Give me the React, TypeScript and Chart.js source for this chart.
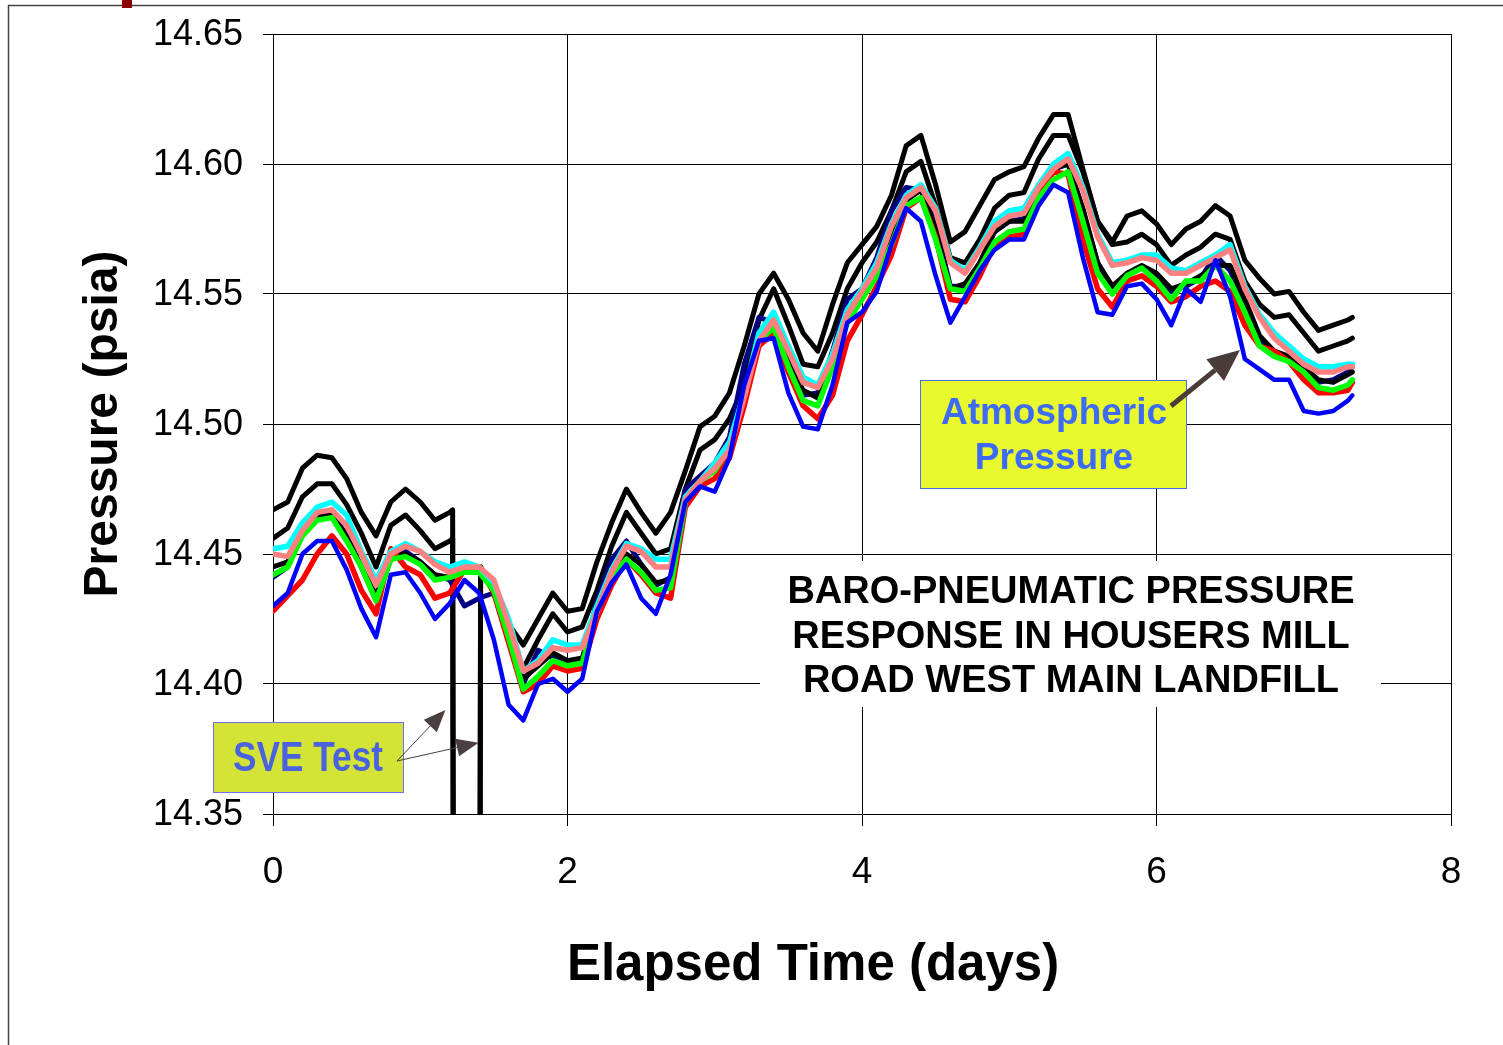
import React, { useEffect, useRef } from "react";
import { Chart, registerables } from "chart.js";

Chart.register(...registerables);

// Elapsed time (days)
const X: number[] = [
  0, 0.1, 0.2, 0.3, 0.4, 0.5, 0.6, 0.7, 0.8, 0.9,
  1.0, 1.1, 1.2, 1.3, 1.4, 1.5, 1.6, 1.7, 1.8, 1.9,
  2.0, 2.1, 2.2, 2.3, 2.4, 2.5, 2.6, 2.7, 2.8, 2.9,
  3.0, 3.1, 3.2, 3.3, 3.4, 3.5, 3.6, 3.7, 3.8, 3.9,
  4.0, 4.1, 4.2, 4.3, 4.4, 4.5, 4.6, 4.7, 4.8, 4.9,
  5.0, 5.1, 5.2, 5.3, 5.4, 5.5, 5.6, 5.7, 5.8, 5.9,
  6.0, 6.1, 6.2, 6.3, 6.4, 6.5, 6.6, 6.7, 6.8, 6.9,
  7.0, 7.1, 7.2, 7.3, 7.33,
];

// Pressure (psia) per series
const BLACK_1: (number | null)[] = [
  14.467, 14.470, 14.483, 14.488, 14.487, 14.479, 14.466, 14.457, 14.470, 14.475,
  14.470, 14.463, 14.466, null, null, 14.437, 14.423, 14.415, 14.425, 14.435,
  14.428, 14.429, 14.447, 14.462, 14.475, 14.466, 14.458, 14.466, 14.482, 14.499,
  14.503, 14.512, 14.530, 14.550, 14.558, 14.548, 14.535, 14.528, 14.546, 14.562,
  14.569, 14.576, 14.588, 14.607, 14.611, 14.592, 14.570, 14.574, 14.584, 14.594,
  14.597, 14.599, 14.610, 14.619, 14.619, 14.598, 14.578, 14.570, 14.580, 14.582,
  14.577, 14.569, 14.575, 14.578, 14.584, 14.580, 14.563, 14.556, 14.550, 14.551,
  14.543, 14.536, 14.538, 14.540, 14.541,
];
const BLACK_2: (number | null)[] = [
  14.456, 14.460, 14.472, 14.477, 14.477, 14.469, 14.458, 14.445, 14.461, 14.465,
  14.459, 14.452, 14.455, null, null, 14.435, 14.419, 14.406, 14.417, 14.427,
  14.420, 14.422, 14.436, 14.453, 14.466, 14.458, 14.450, 14.452, 14.475, 14.490,
  14.494, 14.502, 14.515, 14.540, 14.552, 14.538, 14.523, 14.522, 14.535, 14.552,
  14.562, 14.570, 14.582, 14.597, 14.601, 14.584, 14.564, 14.562, 14.571, 14.583,
  14.588, 14.589, 14.602, 14.611, 14.611, 14.597, 14.578, 14.569, 14.570, 14.573,
  14.569, 14.561, 14.565, 14.568, 14.573, 14.571, 14.555, 14.546, 14.541, 14.542,
  14.535, 14.528, 14.530, 14.532, 14.533,
];
const CYAN: number[] = [
  14.452, 14.453, 14.462, 14.468, 14.470, 14.465, 14.451, 14.440, 14.451, 14.454,
  14.451, 14.447, 14.445, 14.447, 14.445, 14.439, 14.425, 14.405, 14.409, 14.417,
  14.415, 14.415, 14.430, 14.444, 14.454, 14.452, 14.448, 14.448, 14.472, 14.478,
  14.485, 14.493, 14.512, 14.535, 14.543, 14.530, 14.518, 14.515, 14.527, 14.544,
  14.552, 14.562, 14.577, 14.588, 14.592, 14.583, 14.563, 14.559, 14.568, 14.578,
  14.582, 14.583, 14.592, 14.600, 14.604, 14.591, 14.573, 14.562, 14.563, 14.565,
  14.565, 14.560, 14.559, 14.562, 14.565, 14.569, 14.553, 14.542, 14.535, 14.530,
  14.525, 14.522, 14.522, 14.523, 14.523,
];
const SALMON: number[] = [
  14.450, 14.449, 14.459, 14.466, 14.467, 14.461, 14.450, 14.438, 14.450, 14.453,
  14.451, 14.446, 14.443, 14.445, 14.445, 14.440, 14.423, 14.405, 14.408, 14.414,
  14.413, 14.414, 14.428, 14.443, 14.453, 14.451, 14.445, 14.445, 14.471, 14.478,
  14.483, 14.490, 14.510, 14.532, 14.540, 14.528, 14.516, 14.514, 14.525, 14.542,
  14.551, 14.560, 14.576, 14.587, 14.591, 14.582, 14.562, 14.558, 14.567, 14.576,
  14.580, 14.581, 14.591, 14.598, 14.602, 14.590, 14.572, 14.561, 14.562, 14.564,
  14.563, 14.558, 14.558, 14.561, 14.564, 14.567, 14.552, 14.541, 14.533, 14.528,
  14.523, 14.520, 14.520, 14.522, 14.522,
];
const BLACK_3: number[] = [
  14.445, 14.447, 14.459, 14.465, 14.465, 14.457, 14.445, 14.434, 14.450, 14.450,
  14.447, 14.442, 14.441, 14.445, 14.444, 14.437, 14.420, 14.402, 14.407, 14.412,
  14.409, 14.410, 14.428, 14.442, 14.450, 14.446, 14.439, 14.440, 14.471, 14.478,
  14.483, 14.492, 14.512, 14.533, 14.537, 14.525, 14.513, 14.510, 14.524, 14.541,
  14.550, 14.558, 14.573, 14.586, 14.590, 14.575, 14.552, 14.554, 14.562, 14.574,
  14.578, 14.578, 14.590, 14.598, 14.600, 14.583, 14.562, 14.553, 14.558, 14.561,
  14.558, 14.552, 14.554, 14.557, 14.561, 14.561, 14.548, 14.534, 14.528, 14.526,
  14.522, 14.517, 14.516, 14.519, 14.520,
];
const GREEN: number[] = [
  14.442, 14.445, 14.457, 14.463, 14.464, 14.455, 14.445, 14.432, 14.448, 14.449,
  14.446, 14.440, 14.441, 14.443, 14.443, 14.436, 14.418, 14.398, 14.403, 14.409,
  14.407, 14.408, 14.428, 14.441, 14.448, 14.443, 14.436, 14.437, 14.470, 14.478,
  14.482, 14.491, 14.512, 14.532, 14.537, 14.522, 14.509, 14.507, 14.522, 14.539,
  14.548, 14.557, 14.569, 14.584, 14.587, 14.571, 14.552, 14.551, 14.560, 14.570,
  14.574, 14.575, 14.587, 14.594, 14.597, 14.578, 14.558, 14.550, 14.557, 14.560,
  14.555, 14.548, 14.555, 14.555, 14.561, 14.555, 14.543, 14.530, 14.526, 14.524,
  14.520, 14.514, 14.513, 14.515, 14.517,
];
const NAVY: number[] = [
  14.441, 14.445, 14.458, 14.465, 14.466, 14.457, 14.445, 14.432, 14.448, 14.451,
  14.447, 14.442, 14.440, 14.430, 14.433, 14.435, 14.417, 14.400, 14.413, 14.410,
  14.408, 14.409, 14.432, 14.448, 14.455, 14.446, 14.438, 14.441, 14.475, 14.480,
  14.485, 14.495, 14.523, 14.541, 14.539, 14.523, 14.511, 14.512, 14.528, 14.548,
  14.552, 14.564, 14.582, 14.591, 14.590, 14.577, 14.553, 14.553, 14.562, 14.574,
  14.578, 14.579, 14.590, 14.598, 14.600, 14.582, 14.562, 14.552, 14.557, 14.560,
  14.557, 14.551, 14.553, 14.556, 14.565, 14.559, 14.546, 14.532, 14.528, 14.525,
  14.521, 14.516, 14.517, 14.520, 14.522,
];
const RED: number[] = [
  14.428, 14.434, 14.440, 14.450, 14.457, 14.450, 14.436, 14.427, 14.452, 14.445,
  14.442, 14.433, 14.435, 14.444, 14.445, 14.435, 14.416, 14.397, 14.400, 14.407,
  14.405, 14.406, 14.425, 14.438, 14.448, 14.442, 14.435, 14.433, 14.468, 14.476,
  14.479, 14.487, 14.507, 14.530, 14.535, 14.520, 14.507, 14.502, 14.511, 14.532,
  14.542, 14.553, 14.565, 14.583, 14.587, 14.572, 14.548, 14.547, 14.557, 14.569,
  14.572, 14.573, 14.587, 14.597, 14.596, 14.571, 14.552, 14.545, 14.555, 14.557,
  14.553, 14.547, 14.549, 14.553, 14.555, 14.551, 14.538, 14.530, 14.528, 14.524,
  14.517, 14.512, 14.512, 14.513, 14.516,
];
const ATMOSPHERIC: number[] = [
  14.430, 14.435, 14.450, 14.455, 14.455, 14.444, 14.429, 14.418, 14.442, 14.443,
  14.435, 14.425, 14.431, 14.440, 14.435, 14.417, 14.392, 14.386, 14.400, 14.402,
  14.397, 14.402, 14.428, 14.439, 14.446, 14.433, 14.427, 14.442, 14.470, 14.476,
  14.474, 14.487, 14.515, 14.532, 14.533, 14.512, 14.499, 14.498, 14.515, 14.539,
  14.543, 14.551, 14.569, 14.583, 14.578, 14.557, 14.539, 14.549, 14.559, 14.567,
  14.571, 14.571, 14.584, 14.592, 14.589, 14.564, 14.543, 14.542, 14.553, 14.554,
  14.548, 14.538, 14.552, 14.547, 14.563, 14.549, 14.525, 14.521, 14.517, 14.517,
  14.505, 14.504, 14.505, 14.509, 14.511,
];

// SVE test interruptions of the two upper black records
const SVE_X: number[] = [1.22, 1.225, 1.405, 1.41];
const BLACK_1_SVE: number[] = [14.467, 14.3, 14.3, 14.445];
const BLACK_2_SVE: number[] = [14.456, 14.3, 14.3, 14.445];

const Y_MIN = 14.35;
const Y_MAX = 14.65;
const Y_STEP = 0.05;
const X_MIN = 0;
const X_MAX = 8;
const X_STEP = 2;

const TITLE_LINES = ["BARO-PNEUMATIC PRESSURE", "RESPONSE IN HOUSERS MILL", "ROAD WEST MAIN LANDFILL"];
const X_TITLE = "Elapsed Time (days)";
const Y_TITLE = "Pressure (psia)";

const FONT = "'Liberation Sans', Arial, Helvetica, sans-serif";

function pts(vals: (number | null)[], ex?: number[], ey?: number[]) {
  const p: { x: number; y: number }[] = [];
  X.forEach((x, i) => {
    const v = vals[i];
    if (v !== null && v !== undefined) p.push({ x, y: v });
  });
  if (ex && ey) ex.forEach((x, i) => p.push({ x, y: ey[i] }));
  return p.sort((a, b) => a.x - b.x);
}

function arrow(
  ctx: CanvasRenderingContext2D,
  x0: number, y0: number, x1: number, y1: number,
  lw: number, headLen: number, headW: number, color: string
) {
  const ang = Math.atan2(y1 - y0, x1 - x0);
  const bx = x1 - headLen * Math.cos(ang);
  const by = y1 - headLen * Math.sin(ang);
  ctx.save();
  ctx.strokeStyle = color;
  ctx.lineWidth = lw;
  ctx.beginPath();
  ctx.moveTo(x0, y0);
  ctx.lineTo(bx, by);
  ctx.stroke();
  const px = -Math.sin(ang) * headW / 2;
  const py = Math.cos(ang) * headW / 2;
  ctx.fillStyle = color;
  ctx.beginPath();
  ctx.moveTo(x1, y1);
  ctx.lineTo(bx + px, by + py);
  ctx.lineTo(bx - px, by - py);
  ctx.closePath();
  ctx.fill();
  ctx.restore();
}

const decor = {
  id: "decor",
  beforeDraw(chart: any) {
    const ctx: CanvasRenderingContext2D = chart.ctx;
    ctx.save();
    ctx.fillStyle = "#ffffff";
    ctx.fillRect(0, 0, chart.width, chart.height);
    // page frame
    ctx.strokeStyle = "#444";
    ctx.lineWidth = 1.5;
    ctx.beginPath();
    ctx.moveTo(8.5, 1045);
    ctx.lineTo(8.5, 5.5);
    ctx.lineTo(1503, 5.5);
    ctx.stroke();
    ctx.fillStyle = "#8b0000";
    ctx.fillRect(122, 0, 10, 8);
    ctx.restore();
  },
  afterDatasetsDraw(chart: any) {
    const ctx: CanvasRenderingContext2D = chart.ctx;
    const xs = chart.scales.x;
    const ys = chart.scales.y;
    ctx.save();

    // y tick labels
    ctx.fillStyle = "#000";
    ctx.font = `36px ${FONT}`;
    ctx.textAlign = "right";
    ctx.textBaseline = "middle";
    ys.ticks.forEach((t: any) => {
      ctx.fillText(Number(t.value).toFixed(2), 243, ys.getPixelForValue(t.value) + 1);
    });

    // Title box
    ctx.fillStyle = "#ffffff";
    ctx.fillRect(760, 561, 621, 146);
    ctx.fillStyle = "#000";
    ctx.font = `bold 38px ${FONT}`;
    ctx.textAlign = "center";
    ctx.textBaseline = "middle";
    TITLE_LINES.forEach((t, i) => ctx.fillText(t, 1071, 593 + i * 44.5));

    // SVE Test box
    ctx.fillStyle = "#d4e436";
    ctx.fillRect(213.5, 722.5, 190, 70);
    ctx.strokeStyle = "#6f6fef";
    ctx.lineWidth = 1;
    ctx.strokeRect(213.5, 722.5, 190, 70);
    ctx.save();
    ctx.font = `bold 42px ${FONT}`;
    const w = ctx.measureText("SVE Test").width;
    ctx.translate(308, 759);
    ctx.scale(150 / w, 1);
    ctx.fillStyle = "#4a62de";
    ctx.textAlign = "center";
    ctx.textBaseline = "middle";
    ctx.fillText("SVE Test", 0, 0);
    ctx.restore();
    arrow(ctx, 397, 761, xs.getPixelForValue(1.171), ys.getPixelForValue(14.39), 1, 22, 18, "#4b3f3f");
    arrow(ctx, 397, 761, xs.getPixelForValue(1.396), ys.getPixelForValue(14.3774), 1, 22, 18, "#4b3f3f");

    // Atmospheric Pressure box
    ctx.fillStyle = "#e8fa2e";
    ctx.fillRect(920.5, 380.5, 266, 108);
    ctx.strokeStyle = "#4a6fe0";
    ctx.lineWidth = 1;
    ctx.strokeRect(920.5, 380.5, 266, 108);
    ctx.fillStyle = "#3d6bf5";
    ctx.font = `bold 37px ${FONT}`;
    ctx.textAlign = "center";
    ctx.textBaseline = "middle";
    ctx.fillText("Atmospheric", 1054, 414);
    ctx.fillText("Pressure", 1054, 459);
    arrow(ctx, 1171, 406, xs.getPixelForValue(6.567), ys.getPixelForValue(14.5285), 5, 32, 28, "#4a3c38");

    // axis titles
    ctx.fillStyle = "#000";
    ctx.font = `bold 51px ${FONT}`;
    ctx.textAlign = "center";
    ctx.textBaseline = "middle";
    ctx.fillText(X_TITLE, 813, 966);
    ctx.font = `bold 48px ${FONT}`;
    ctx.save();
    ctx.translate(104, 424);
    ctx.rotate(-Math.PI / 2);
    ctx.fillText(Y_TITLE, 0, 0);
    ctx.restore();

    ctx.restore();
  },
};

export default function App() {
  const ref = useRef<HTMLCanvasElement>(null);
  useEffect(() => {
    document.body.style.margin = "0";
    const canvas = ref.current!;
    const line = (label: string, data: any[], color: string, width: number) => ({
      label,
      data,
      borderColor: color,
      backgroundColor: color,
      borderWidth: width,
      pointRadius: 0,
      tension: 0,
      fill: false,
      borderJoinStyle: "round" as const,
      borderCapStyle: "round" as const,
    });
    const chart = new Chart(canvas, {
      type: "line",
      data: {
        datasets: [
          line("Atmospheric", pts(ATMOSPHERIC), "#0000ff", 4.5),
          line("Salmon", pts(SALMON), "#ff8080", 5.5),
          line("Cyan", pts(CYAN), "#00ffff", 5.5),
          line("Green", pts(GREEN), "#00ff00", 5.5),
          line("Red", pts(RED), "#ff0000", 5.5),
          line("Black 3", pts(BLACK_3), "#000000", 5),
          line("Navy", pts(NAVY), "#000080", 5),
          line("Black 2", pts(BLACK_2, SVE_X, BLACK_2_SVE), "#000000", 5),
          line("Black 1", pts(BLACK_1, SVE_X, BLACK_1_SVE), "#000000", 5),
        ],
      },
      options: {
        responsive: false,
        animation: false,
        devicePixelRatio: 1,
        layout: { padding: { left: 0, right: 52, top: 34, bottom: 0 } },
        plugins: {
          legend: { display: false },
          tooltip: { enabled: false },
          title: { display: false },
        },
        scales: {
          x: {
            type: "linear",
            min: X_MIN,
            max: X_MAX,
            afterFit: (s: any) => { s.height = 231; },
            ticks: {
              stepSize: X_STEP,
              font: { family: FONT, size: 37 },
              color: "#000",
              padding: 25,
              maxRotation: 0,
              autoSkip: false,
            },
            grid: { color: "#000", lineWidth: 1, tickLength: 12, drawTicks: true },
            border: { display: true, color: "#000", width: 1 },
          },
          y: {
            type: "linear",
            min: Y_MIN,
            max: Y_MAX,
            afterFit: (s: any) => { s.width = 273; },
            ticks: {
              stepSize: Y_STEP,
              display: false,
            },
            grid: { color: "#000", lineWidth: 1, tickLength: 10, drawTicks: true },
            border: { display: true, color: "#000", width: 1 },
          },
        },
      },
      plugins: [decor],
    });
    return () => chart.destroy();
  }, []);
  return (
    <canvas
      ref={ref}
      width={1503}
      height={1045}
      style={{ display: "block", width: 1503, height: 1045 }}
    />
  );
}
